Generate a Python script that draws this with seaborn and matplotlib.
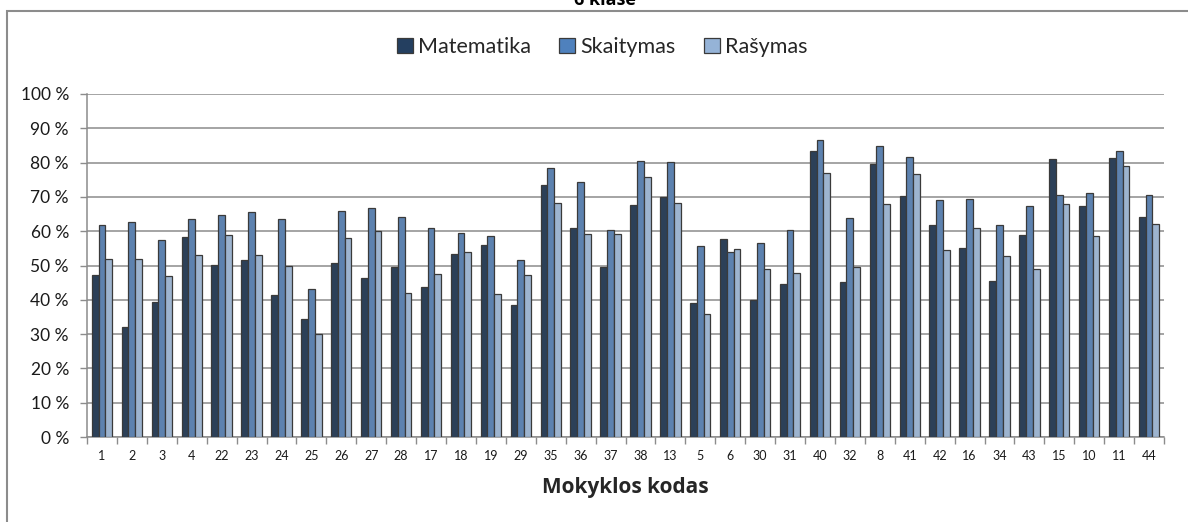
import matplotlib
matplotlib.use("Agg")
import matplotlib.pyplot as plt
from matplotlib.patches import Rectangle
from matplotlib.ticker import FixedLocator, FuncFormatter
import seaborn as sns
import pandas as pd

# School codes in display order
codes = ["1", "2", "3", "4", "22", "23", "24", "25", "26", "27", "28", "17",
         "18", "19", "29", "35", "36", "37", "38", "13", "5", "6", "30", "31",
         "40", "32", "8", "41", "42", "16", "34", "43", "15", "10", "11", "44"]

# Results per subject, percent
matematika = [47.2, 32.1, 39.4, 58.2, 50.1, 51.6, 41.4, 34.3, 50.8, 46.4, 49.7, 43.8,
              53.3, 56.0, 38.4, 73.5, 60.9, 49.7, 67.6, 69.9, 39.1, 57.6, 39.8, 44.6,
              83.3, 45.1, 79.5, 70.3, 61.9, 55.1, 45.4, 59.0, 81.0, 67.4, 81.2, 64.1]
skaitymas = [61.8, 62.8, 57.4, 63.7, 64.8, 65.5, 63.7, 43.1, 66.0, 66.7, 64.0, 61.0,
             59.6, 58.6, 51.6, 78.5, 74.2, 60.3, 80.6, 80.2, 55.7, 53.8, 56.5, 60.3,
             86.5, 63.8, 84.7, 81.5, 69.2, 69.5, 61.8, 67.3, 70.6, 71.2, 83.5, 70.6]
rasymas = [51.9, 52.0, 47.0, 53.2, 58.9, 53.2, 50.0, 29.9, 58.0, 60.0, 42.1, 47.6,
           54.0, 41.7, 47.2, 68.2, 59.2, 59.1, 75.9, 68.3, 35.9, 54.8, 49.1, 47.9,
           77.0, 49.5, 68.0, 76.8, 54.4, 61.0, 52.9, 49.0, 68.0, 58.5, 79.1, 62.1]

subjects = ["Matematika", "Skaitymas", "Rašymas"]
colors = ["#243F60", "#4F81BD", "#95B3D7"]

df = pd.DataFrame({
    "kodas": codes * 3,
    "dalykas": [s for s in subjects for _ in codes],
    "reiksme": matematika + skaitymas + rasymas,
})

sns.set_theme(style="white")
plt.rcParams["font.family"] = ["Lato", "DejaVu Sans"]

fig = plt.figure(figsize=(11.88, 5.22), dpi=100)
W, H = 1188, 522
ax = fig.add_axes([87 / W, 1 - 437 / H, (1164 - 87) / W, (437 - 94) / H])

sns.barplot(data=df, x="kodas", y="reiksme", hue="dalykas", order=codes,
            hue_order=subjects, palette=colors, width=0.68, gap=0,
            edgecolor="#3A3A3A", linewidth=0.9, errorbar=None, ax=ax,
            zorder=3)

ax.set_ylim(0, 100)
ax.set_xlim(-0.5, len(codes) - 0.5)
ax.yaxis.set_major_locator(FixedLocator(range(0, 101, 10)))
ax.yaxis.set_major_formatter(FuncFormatter(lambda v, p: f"{int(v)} %"))
ax.grid(axis="y", color="#8C8C8C", linewidth=1.1, zorder=0)
ax.set_axisbelow(True)

for side in ("top", "right"):
    ax.spines[side].set_visible(False)
for side in ("left", "bottom"):
    ax.spines[side].set_color("#8C8C8C")
    ax.spines[side].set_linewidth(1.1)

ax.tick_params(axis="y", which="major", length=5, color="#8C8C8C", width=1,
               labelsize=12.5, labelcolor="#1A1A1A", left=True, pad=8)
ax.tick_params(axis="x", which="major", length=0, labelsize=9,
               labelcolor="#1A1A1A", pad=9)
ax.set_xticks([i - 0.5 for i in range(len(codes) + 1)], minor=True)
ax.tick_params(axis="x", which="minor", length=5, color="#8C8C8C", width=1,
               bottom=True)

ax.set_xlabel("Mokyklos kodas", fontsize=15, fontweight="bold", labelpad=11,
              family=["Open Sans", "DejaVu Sans"])
ax.set_ylabel("")

ax.legend_.remove()
handles = [Rectangle((0, 0), 1, 1, facecolor=c, edgecolor="#3A3A3A", linewidth=0.9)
           for c in colors]
fig.legend(handles, subjects, loc="center", bbox_to_anchor=(0.507, 1 - 47 / H),
           ncol=3, frameon=False, fontsize=15.5, handlelength=0.75,
           handleheight=0.75, handletextpad=0.25, columnspacing=1.3)

# Chart frame and title
fig.add_artist(Rectangle((7 / W, -0.05), 1.1, 1 - 11 / H + 0.05,
                         transform=fig.transFigure, fill=False,
                         edgecolor="#8C8C8C", linewidth=1.5, clip_on=False))
fig.text(605 / W, 1 - 5 / H, "6 klasė", ha="center", va="baseline",
         fontsize=13, fontweight="bold", color="#000000",
         family=["Open Sans", "DejaVu Sans"])

fig.savefig("out.png", dpi=100)
